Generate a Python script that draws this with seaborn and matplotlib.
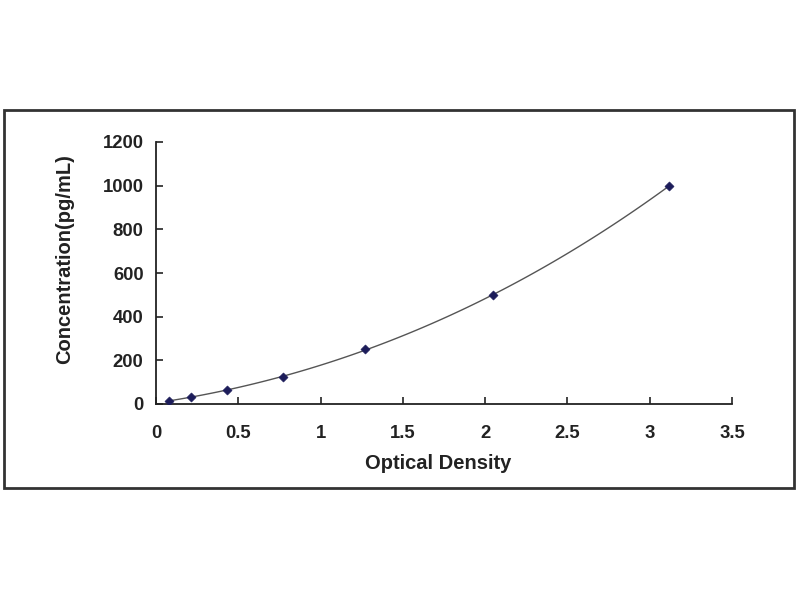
import matplotlib
matplotlib.use("Agg")
import matplotlib.pyplot as plt
import matplotlib.patches as mpatches
import seaborn as sns
import pandas as pd

# standard curve
optical_density = [0.08, 0.21, 0.43, 0.77, 1.27, 2.05, 3.12]
concentration = [15.6, 31.25, 62.5, 125, 250, 500, 1000]

x_ticks = [0, 0.5, 1, 1.5, 2, 2.5, 3, 3.5]
x_tick_labels = ["0", "0.5", "1", "1.5", "2", "2.5", "3", "3.5"]
y_ticks = [0, 200, 400, 600, 800, 1000, 1200]

df = pd.DataFrame({"od": optical_density, "conc": concentration})

sns.set_style("white")
plt.rcParams['font.family'] = ['Liberation Sans', 'DejaVu Sans']
plt.rcParams['font.weight'] = 'bold'

fig = plt.figure(figsize=(8, 6), dpi=100)
ax = fig.add_axes([156 / 800, 1 - 404 / 600, (732 - 156) / 800, (404 - 142) / 600])

# outer frame around the chart
fig.patches.append(mpatches.Rectangle((4 / 800, 1 - 488 / 600), 790 / 800, 378 / 600,
                                      transform=fig.transFigure, fill=False,
                                      edgecolor="#333333", linewidth=2))

# fitted curve + points
sns.regplot(data=df, x="od", y="conc", order=3, ci=None, scatter=False, truncate=True,
            line_kws={"color": "#555555", "linewidth": 1}, ax=ax)
sns.scatterplot(data=df, x="od", y="conc", marker="D", s=22, color="#1c1c5a",
                edgecolor="#1c1c5a", ax=ax, zorder=3)

ax.set_xlim(0, 3.5)
ax.set_ylim(0, 1200)
ax.set_xticks(x_ticks)
ax.set_xticklabels(x_tick_labels)
ax.set_yticks(y_ticks)
sns.despine(ax=ax)
for side in ["left", "bottom"]:
    ax.spines[side].set_color("#222222")
    ax.spines[side].set_linewidth(1.3)

ax.tick_params(axis="x", bottom=True, direction="in", length=5, width=1.2, pad=15,
               labelsize=13.3, colors="#222222")
ax.tick_params(axis="y", left=True, direction="in", length=5, width=1.2, pad=9,
               labelsize=13.3, colors="#222222")
for lab in ax.get_xticklabels() + ax.get_yticklabels():
    lab.set_fontweight("bold")

ax.set_xlabel("Optical Density", fontsize=14.5, fontweight="bold", color="#222222")
ax.set_ylabel("Concentration(pg/mL)", fontsize=14.5, fontweight="bold", color="#222222")
ax.xaxis.set_label_coords(0.49, -0.19)
ax.yaxis.set_label_coords(-0.142, 0.555)

fig.savefig("out.png", dpi=100)
